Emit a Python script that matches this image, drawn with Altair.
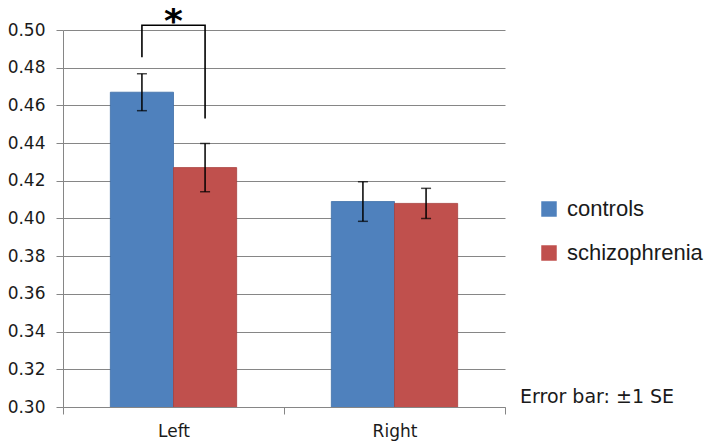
import altair as alt
import pandas as pd

groups = ["Left", "Right"]
series = ["controls", "schizophrenia"]
controls_mean = [0.467, 0.409]
schizo_mean = [0.427, 0.408]
controls_se = [0.0098, 0.0105]
schizo_se = [0.0128, 0.0080]
colors = ["#4F81BD", "#C0504D"]
y_ticks = [0.30, 0.32, 0.34, 0.36, 0.38, 0.40, 0.42, 0.44, 0.46, 0.48, 0.50]

# significance bracket (Left group): leg bottoms and bracket top
bracket_top = 0.5025
bracket_leg_bottom = [0.4855, 0.453]
star_y = 0.5085

rows = []
for i, g in enumerate(groups):
    rows.append({"group": g, "series": "controls", "mean": controls_mean[i],
                 "lo": controls_mean[i] - controls_se[i], "hi": controls_mean[i] + controls_se[i]})
    rows.append({"group": g, "series": "schizophrenia", "mean": schizo_mean[i],
                 "lo": schizo_mean[i] - schizo_se[i], "hi": schizo_mean[i] + schizo_se[i]})
df = pd.DataFrame(rows)

br = pd.DataFrame([
    {"group": "Left", "series": "controls", "v": bracket_leg_bottom[0], "o": 0},
    {"group": "Left", "series": "controls", "v": bracket_top, "o": 1},
    {"group": "Left", "series": "schizophrenia", "v": bracket_top, "o": 2},
    {"group": "Left", "series": "schizophrenia", "v": bracket_leg_bottom[1], "o": 3},
])
star = pd.DataFrame([{"group": "Left", "v": star_y, "t": "*"}])
note = pd.DataFrame([{"t": "Error bar: \u00b11 SE"}])

xscale = alt.Scale(domain=groups, paddingInner=0, paddingOuter=0)
xoff = alt.XOffset("series:N", scale=alt.Scale(domain=series, paddingOuter=0.75, paddingInner=0))
yscale = alt.Scale(domain=[0.30, 0.50], nice=False, zero=False)

x_axis = alt.Axis(title=None, labelAngle=0, tickBand="extent", grid=False,
                  domainColor="#868686", tickColor="#868686", tickSize=7,
                  labelPadding=9, labelFontSize=17, labelFont="DejaVu Sans",
                  labelColor="#1a1a1a")
y_axis = alt.Axis(title=None, values=y_ticks, tickCount=30,
                  format=".2f", labelOverlap=False,
                  grid=True, gridColor="#868686", gridWidth=1,
                  domainColor="#868686", tickColor="#868686", tickSize=7,
                  labelPadding=11, labelFontSize=17, labelFont="DejaVu Sans",
                  labelColor="#1a1a1a")


def X():
    return alt.X("group:N", scale=xscale, sort=groups, axis=x_axis)


def Y(field):
    return alt.Y(field, scale=yscale, axis=y_axis)


bars = alt.Chart(df).mark_bar(strokeWidth=0.8, clip=True).encode(
    x=X(),
    xOffset=xoff,
    y=Y("mean:Q"),
    color=alt.Color("series:N", scale=alt.Scale(domain=series, range=colors),
                    legend=alt.Legend(title=None, orient="none", legendX=475, legendY=168,
                                      symbolType="square", symbolSize=240, symbolStrokeWidth=0,
                                      labelFontSize=22, labelFont="Liberation Sans", labelColor="#1a1a1a",
                                      labelLimit=400,
                                      rowPadding=22, labelOffset=7, padding=0)),
    stroke=alt.Stroke("series:N", scale=alt.Scale(domain=series, range=["#3F6FA8", "#A8403D"]),
                      legend=None),
)

err = alt.Chart(df).mark_rule(color="black", strokeWidth=1.5).encode(
    x=X(), xOffset=xoff,
    y=Y("lo:Q"),
    y2="hi:Q",
)
cap_lo = alt.Chart(df).mark_tick(color="black", size=10, thickness=1.5).encode(
    x=X(), xOffset=xoff,
    y=Y("lo:Q"),
)
cap_hi = alt.Chart(df).mark_tick(color="black", size=10, thickness=1.5).encode(
    x=X(), xOffset=xoff,
    y=Y("hi:Q"),
)

bracket = alt.Chart(br).mark_line(color="black", strokeWidth=1.6, clip=False).encode(
    x=X(),
    xOffset=alt.XOffset("series:N", scale=alt.Scale(domain=series, paddingOuter=0.75, paddingInner=0)),
    y=Y("v:Q"),
    order="o:Q",
)

star_mark = alt.Chart(star).mark_text(fontSize=36, fontWeight="bold", font="DejaVu Sans",
                                      baseline="middle", color="black", dy=8, clip=False).encode(
    x=X(),
    y=Y("v:Q"),
    text="t:N",
)

note_mark = alt.Chart(note).mark_text(fontSize=19, font="DejaVu Sans", align="left",
                                      baseline="middle", color="#1a1a1a").encode(
    x=alt.value(457), y=alt.value(367), text="t:N",
)

chart = alt.layer(bars, err, cap_lo, cap_hi, bracket, star_mark, note_mark).properties(
    width=442, height=377,
    autosize=alt.AutoSizeParams(type="none"),
    padding={"left": 55, "top": 22, "right": 201, "bottom": 36},
).configure_view(stroke=None)

chart.save("out.html", embed_options={"renderer": "svg", "actions": False})
